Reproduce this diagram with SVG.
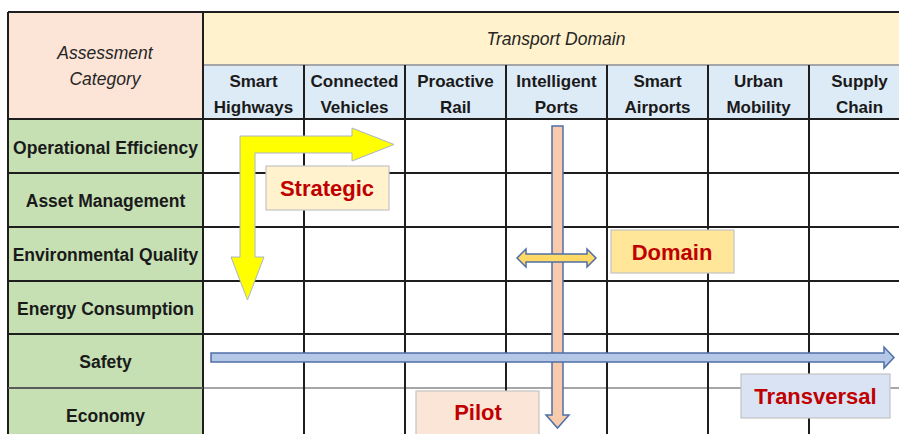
<svg xmlns="http://www.w3.org/2000/svg" width="899" height="434" viewBox="0 0 899 434">
  <style>
    .hdr { font-family: "Liberation Sans", Arial, sans-serif; font-size: 17px; font-weight: bold; fill: #1a1a1a; text-anchor: middle; }
    .row { font-family: "Liberation Sans", Arial, sans-serif; font-size: 17.5px; font-weight: bold; fill: #1a1a1a; text-anchor: middle; }
    .ital { font-family: "Liberation Sans", Arial, sans-serif; font-size: 17.5px; font-style: italic; fill: #262626; text-anchor: middle; }
    .tag { font-family: "Liberation Sans", Arial, sans-serif; font-size: 22px; font-weight: bold; fill: #C00000; text-anchor: middle; }
    .tagbox { stroke: #c4c4c4; stroke-width: 1.2; }
    .grid { stroke: #1e1e1e; stroke-width: 2; fill: none; }
    .soft { stroke: #a6a6a6; stroke-width: 2; fill: none; }
    .arr { stroke: #4f6fa6; stroke-width: 1.5; stroke-linejoin: miter; }
  </style>

  <rect width="899" height="434" fill="#ffffff"/>

  <!-- header cells -->
  <g id="assessment-category">
    <rect x="8" y="12" width="195" height="107" fill="#FCE4D6"/>
    <text class="ital" x="105" y="59">Assessment</text>
    <text class="ital" x="105" y="85">Category</text>
  </g>
  <g id="transport-domain">
    <rect x="203" y="12" width="700" height="53" fill="#FFF2CC"/>
    <text class="ital" x="556" y="45">Transport Domain</text>
  </g>

  <g id="col-smart-highways">
    <rect x="203" y="65" width="101" height="54" fill="#DDEBF7"/>
    <text class="hdr" x="253.5" y="87">Smart</text>
    <text class="hdr" x="253.5" y="113">Highways</text>
  </g>
  <g id="col-connected-vehicles">
    <rect x="304" y="65" width="101" height="54" fill="#DDEBF7"/>
    <text class="hdr" x="354.5" y="87">Connected</text>
    <text class="hdr" x="354.5" y="113">Vehicles</text>
  </g>
  <g id="col-proactive-rail">
    <rect x="405" y="65" width="101" height="54" fill="#DDEBF7"/>
    <text class="hdr" x="455.5" y="87">Proactive</text>
    <text class="hdr" x="455.5" y="113">Rail</text>
  </g>
  <g id="col-intelligent-ports">
    <rect x="506" y="65" width="101" height="54" fill="#DDEBF7"/>
    <text class="hdr" x="556.5" y="87">Intelligent</text>
    <text class="hdr" x="556.5" y="113">Ports</text>
  </g>
  <g id="col-smart-airports">
    <rect x="607" y="65" width="101" height="54" fill="#DDEBF7"/>
    <text class="hdr" x="657.5" y="87">Smart</text>
    <text class="hdr" x="657.5" y="113">Airports</text>
  </g>
  <g id="col-urban-mobility">
    <rect x="708" y="65" width="101" height="54" fill="#DDEBF7"/>
    <text class="hdr" x="758.5" y="87">Urban</text>
    <text class="hdr" x="758.5" y="113">Mobility</text>
  </g>
  <g id="col-supply-chain">
    <rect x="809" y="65" width="101" height="54" fill="#DDEBF7"/>
    <text class="hdr" x="859.5" y="87">Supply</text>
    <text class="hdr" x="859.5" y="113">Chain</text>
  </g>

  <!-- row labels -->
  <g id="row-operational-efficiency">
    <rect x="8" y="119" width="195" height="54" fill="#C6E0B4"/>
    <text class="row" x="105.5" y="154">Operational Efficiency</text>
  </g>
  <g id="row-asset-management">
    <rect x="8" y="173" width="195" height="54" fill="#C6E0B4"/>
    <text class="row" x="105.5" y="207">Asset Management</text>
  </g>
  <g id="row-environmental-quality">
    <rect x="8" y="227" width="195" height="54" fill="#C6E0B4"/>
    <text class="row" x="105.5" y="261">Environmental Quality</text>
  </g>
  <g id="row-energy-consumption">
    <rect x="8" y="281" width="195" height="53" fill="#C6E0B4"/>
    <text class="row" x="105.5" y="315">Energy Consumption</text>
  </g>
  <g id="row-safety">
    <rect x="8" y="334" width="195" height="54" fill="#C6E0B4"/>
    <text class="row" x="105.5" y="368">Safety</text>
  </g>
  <g id="row-economy">
    <rect x="8" y="388" width="195" height="50" fill="#C6E0B4"/>
    <text class="row" x="105.5" y="422">Economy</text>
  </g>

  <!-- grid -->
  <g id="grid">
    <line class="soft" x1="203" y1="65" x2="899" y2="65"/>
    <line class="soft" x1="8" y1="388" x2="899" y2="388"/>
    <path class="grid" d="M8,12 H899 M8,12 V434 M203,12 V434
      M304,65 V434 M405,65 V434 M506,65 V434 M607,65 V434 M708,65 V434 M809,65 V434
      M8,119 H899 M8,173 H899 M8,227 H899 M8,281 H899 M8,334 H899"/>
    <line x1="8" y1="388" x2="203" y2="388" stroke="#5a5a5a" stroke-width="2"/>
  </g>

  <!-- connectors -->
  <g id="connectors">
    <path id="strategic-arrow" d="M240,136 H352 V128 L394,144.5 L352,161 V153 H255 V257 H264 L247.5,300 L231,257 H240 Z" fill="#FFFF00" stroke="#aab4c8" stroke-width="1"/>
    <path id="pilot-arrow" class="arr" d="M552,126 H563 V415 H569 L557.5,428 L546,415 H552 Z" fill="#F8CBAD"/>
    <path id="domain-arrow" class="arr" d="M517,258 L526,249 V254 H587 V249 L596,258 L587,267 V262 H526 V267 Z" fill="#FFD966"/>
    <path id="transversal-arrow" class="arr" d="M211,353 H884 V347 L894,357.5 L884,368 V362 H211 Z" fill="#B4C7E7"/>
  </g>

  <!-- scope labels -->
  <g id="label-strategic">
    <rect class="tagbox" x="266" y="166" width="123" height="44" fill="#FFF2CC"/>
    <text class="tag" x="327" y="196">Strategic</text>
  </g>
  <g id="label-domain">
    <rect class="tagbox" x="611" y="230" width="123" height="43" fill="#FFE699"/>
    <text class="tag" x="672" y="260">Domain</text>
  </g>
  <g id="label-transversal">
    <rect class="tagbox" x="741" y="374" width="149" height="44" fill="#DAE3F3"/>
    <text class="tag" x="815.5" y="404">Transversal</text>
  </g>
  <g id="label-pilot">
    <rect class="tagbox" x="416" y="391" width="123" height="48" fill="#FBE5D6"/>
    <text class="tag" x="478" y="420">Pilot</text>
  </g>
</svg>
